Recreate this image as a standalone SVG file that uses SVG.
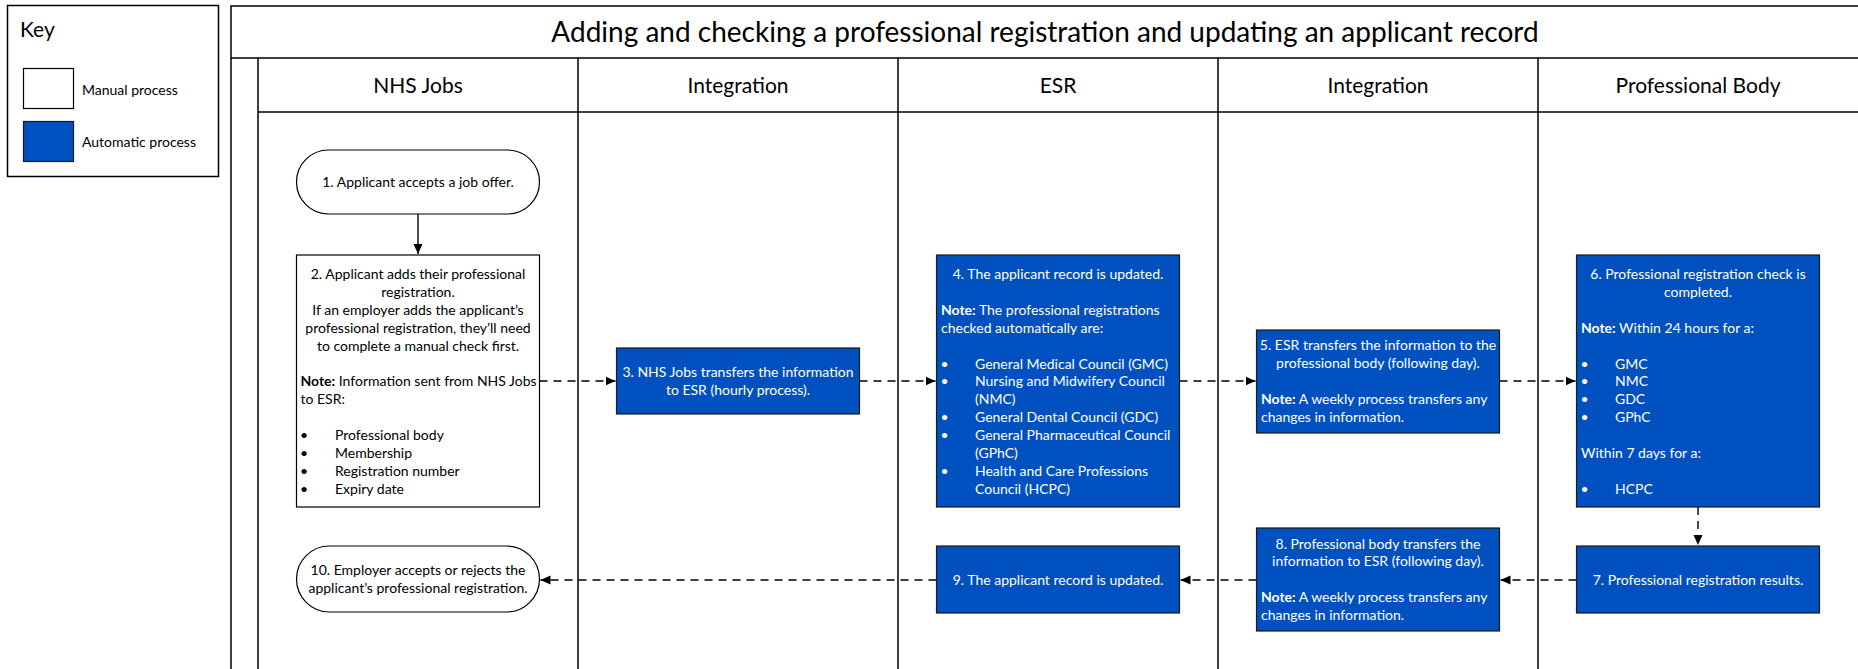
<svg xmlns="http://www.w3.org/2000/svg" width="1858" height="669" viewBox="0 0 1858 669">
  <style>
    text { font-family: Lato, "Liberation Sans", sans-serif; fill: #000; }
    .title { font-size: 28px; text-anchor: middle; }
    .lane { font-size: 21px; text-anchor: middle; }
    .key { font-size: 21px; }
    .t { font-size: 14px; }
    .c { text-anchor: middle; }
    .w { fill: #fff; }
    .b { font-weight: bold; }
    .frame { fill: none; stroke: #000; stroke-width: 1.5; }
    .manual { fill: #fff; stroke: #000; stroke-width: 1.2; }
    .auto { fill: #0051BF; stroke: #1a1a1a; stroke-width: 1.2; }
    .solid { fill: none; stroke: #000; stroke-width: 1.4; }
    .dash { fill: none; stroke: #000; stroke-width: 1.4; stroke-dasharray: 8 6; }
  </style>
  <defs>
    <marker id="arrow" markerUnits="userSpaceOnUse" markerWidth="11" markerHeight="11" refX="10" refY="5" orient="auto">
      <path d="M0,0.5 L10,5 L0,9.5 Z" fill="#000"/>
    </marker>
  </defs>

  <rect width="1858" height="669" fill="#fff"/>

  <!-- key -->
  <g id="key">
    <rect x="7.5" y="5.5" width="211" height="171" class="frame" stroke-width="1.3"/>
    <text class="key" x="20" y="37">Key</text>
    <rect x="23.5" y="68.5" width="50" height="40" class="manual"/>
    <text class="t" x="82" y="95">Manual process</text>
    <rect x="23.5" y="121.5" width="50" height="40" class="auto"/>
    <text class="t" x="82" y="147">Automatic process</text>
  </g>

  <!-- swimlane frame -->
  <g id="lanes">
    <path class="frame" d="M1860,6 H231 V669 M231,58 H1860 M258,58 V669 M258,112 H1860 M578,58 V669 M898,58 V669 M1218,58 V669 M1538,58 V669"/>
    <text class="title" x="1045" y="42">Adding and checking a professional registration and updating an applicant record</text>
    <text class="lane" x="418" y="93">NHS Jobs</text>
    <text class="lane" x="738" y="93">Integration</text>
    <text class="lane" x="1058" y="93">ESR</text>
    <text class="lane" x="1378" y="93">Integration</text>
    <text class="lane" x="1698" y="93">Professional Body</text>
  </g>

  <!-- connectors -->
  <g id="connectors">
    <path class="solid" d="M418,214 V254" marker-end="url(#arrow)"/>
    <path class="dash" d="M539.5,381 H615.5" marker-end="url(#arrow)"/>
    <path class="dash" d="M859.5,381 H935.5" marker-end="url(#arrow)"/>
    <path class="dash" d="M1179.5,381 H1255.5" marker-end="url(#arrow)"/>
    <path class="dash" d="M1499.5,381 H1575.5" marker-end="url(#arrow)"/>
    <path class="dash" d="M1698,507 V545" marker-end="url(#arrow)"/>
    <path class="dash" d="M1576.5,580 H1500.5" marker-end="url(#arrow)"/>
    <path class="dash" d="M1256.5,580 H1180.5" marker-end="url(#arrow)"/>
    <path class="dash" d="M936.5,580 H540.5" marker-end="url(#arrow)"/>
  </g>

  <!-- 1 -->
  <g id="step1">
    <rect x="296.5" y="150" width="243" height="64" rx="32" ry="32" class="manual"/>
    <text class="t c" x="418" y="187">1. Applicant accepts a job offer.</text>
  </g>

  <!-- 2 -->
  <g id="step2">
    <rect x="296.5" y="255" width="243" height="252" class="manual"/>
    <text class="t c" x="418" y="279">2. Applicant adds their professional</text>
    <text class="t c" x="418" y="296.9">registration.</text>
    <text class="t c" x="418" y="314.8">If an employer adds the applicant’s</text>
    <text class="t c" x="418" y="332.7">professional registration, they’ll need</text>
    <text class="t c" x="418" y="350.6">to complete a manual check first.</text>
    <text class="t" x="300.5" y="386.4"><tspan class="b">Note:</tspan> Information sent from NHS Jobs</text>
    <text class="t" x="300.5" y="404.3">to ESR:</text>
    <text class="t c" x="304" y="440.1">•</text><text class="t" x="335" y="440.1">Professional body</text>
    <text class="t c" x="304" y="458">•</text><text class="t" x="335" y="458">Membership</text>
    <text class="t c" x="304" y="475.9">•</text><text class="t" x="335" y="475.9">Registration number</text>
    <text class="t c" x="304" y="493.8">•</text><text class="t" x="335" y="493.8">Expiry date</text>
  </g>

  <!-- 3 -->
  <g id="step3">
    <rect x="616.5" y="348" width="243" height="66" class="auto"/>
    <text class="t c w" x="738" y="377">3. NHS Jobs transfers the information</text>
    <text class="t c w" x="738" y="395">to ESR (hourly process).</text>
  </g>

  <!-- 4 -->
  <g id="step4">
    <rect x="936.5" y="255" width="243" height="252" class="auto"/>
    <text class="t c w" x="1058" y="279">4. The applicant record is updated.</text>
    <text class="t w" x="941" y="314.8"><tspan class="b">Note:</tspan> The professional registrations</text>
    <text class="t w" x="941" y="332.7">checked automatically are:</text>
    <text class="t c w" x="944.5" y="368.5">•</text><text class="t w" x="975" y="368.5">General Medical Council (GMC)</text>
    <text class="t c w" x="944.5" y="386.4">•</text><text class="t w" x="975" y="386.4">Nursing and Midwifery Council</text>
    <text class="t w" x="975" y="404.3">(NMC)</text>
    <text class="t c w" x="944.5" y="422.2">•</text><text class="t w" x="975" y="422.2">General Dental Council (GDC)</text>
    <text class="t c w" x="944.5" y="440.1">•</text><text class="t w" x="975" y="440.1">General Pharmaceutical Council</text>
    <text class="t w" x="975" y="458">(GPhC)</text>
    <text class="t c w" x="944.5" y="475.9">•</text><text class="t w" x="975" y="475.9">Health and Care Professions</text>
    <text class="t w" x="975" y="493.8">Council (HCPC)</text>
  </g>

  <!-- 5 -->
  <g id="step5">
    <rect x="1256.5" y="330" width="243" height="103" class="auto"/>
    <text class="t c w" x="1378" y="350">5. ESR transfers the information to the</text>
    <text class="t c w" x="1378" y="368">professional body (following day).</text>
    <text class="t w" x="1261" y="404"><tspan class="b">Note:</tspan> A weekly process transfers any</text>
    <text class="t w" x="1261" y="422">changes in information.</text>
  </g>

  <!-- 6 -->
  <g id="step6">
    <rect x="1576.5" y="255" width="243" height="252" class="auto"/>
    <text class="t c w" x="1698" y="279">6. Professional registration check is</text>
    <text class="t c w" x="1698" y="296.9">completed.</text>
    <text class="t w" x="1581" y="332.7"><tspan class="b">Note:</tspan> Within 24 hours for a:</text>
    <text class="t c w" x="1584.5" y="368.5">•</text><text class="t w" x="1615" y="368.5">GMC</text>
    <text class="t c w" x="1584.5" y="386.4">•</text><text class="t w" x="1615" y="386.4">NMC</text>
    <text class="t c w" x="1584.5" y="404.3">•</text><text class="t w" x="1615" y="404.3">GDC</text>
    <text class="t c w" x="1584.5" y="422.2">•</text><text class="t w" x="1615" y="422.2">GPhC</text>
    <text class="t w" x="1581" y="458">Within 7 days for a:</text>
    <text class="t c w" x="1584.5" y="493.8">•</text><text class="t w" x="1615" y="493.8">HCPC</text>
  </g>

  <!-- 7 -->
  <g id="step7">
    <rect x="1576.5" y="546" width="243" height="67" class="auto"/>
    <text class="t c w" x="1698" y="584.5">7. Professional registration results.</text>
  </g>

  <!-- 8 -->
  <g id="step8">
    <rect x="1256.5" y="528" width="243" height="103" class="auto"/>
    <text class="t c w" x="1378" y="548.5">8. Professional body transfers the</text>
    <text class="t c w" x="1378" y="566.4">information to ESR (following day).</text>
    <text class="t w" x="1261" y="602.2"><tspan class="b">Note:</tspan> A weekly process transfers any</text>
    <text class="t w" x="1261" y="620.1">changes in information.</text>
  </g>

  <!-- 9 -->
  <g id="step9">
    <rect x="936.5" y="546" width="243" height="67" class="auto"/>
    <text class="t c w" x="1058" y="584.5">9. The applicant record is updated.</text>
  </g>

  <!-- 10 -->
  <g id="step10">
    <rect x="296.5" y="546" width="243" height="66" rx="33" ry="33" class="manual"/>
    <text class="t c" x="418" y="575">10. Employer accepts or rejects the</text>
    <text class="t c" x="418" y="593">applicant’s professional registration.</text>
  </g>
</svg>
